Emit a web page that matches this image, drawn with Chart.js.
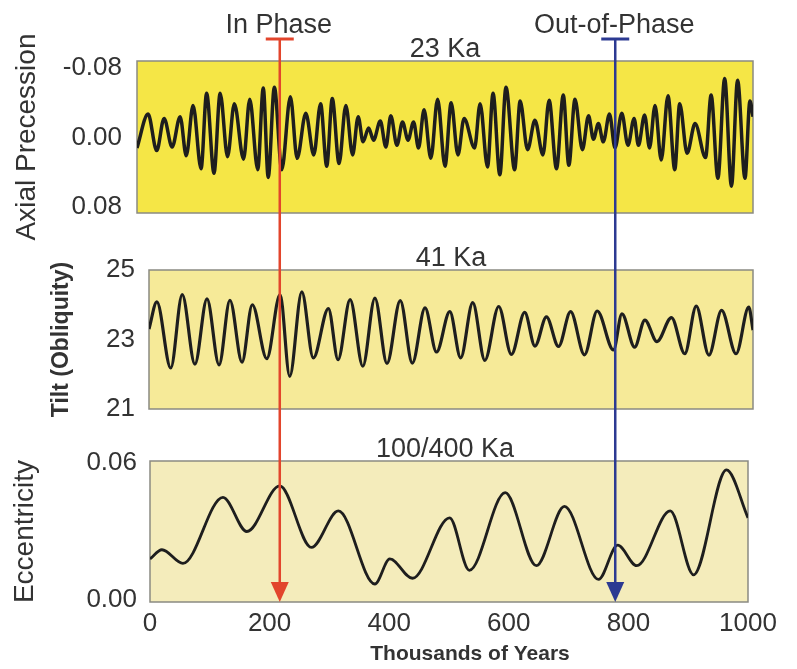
<!DOCTYPE html>
<html>
<head>
<meta charset="utf-8">
<script src="https://cdn.jsdelivr.net/npm/chart.js@4.4.1/dist/chart.umd.min.js"></script>
<style>
  body { margin: 0; background: #fff; }
  #wrap { position: relative; width: 797px; height: 669px; }
  #wrap canvas { position: absolute; left: 0; top: 0; }
</style>
</head>
<body>
<div id="wrap">
  <canvas id="precChart" width="797" height="669"></canvas>
  <canvas id="tiltChart" width="797" height="669"></canvas>
  <canvas id="eccChart" width="797" height="669"></canvas>
</div>
<script>
// axial precession (23 ka) - turning points
const precTime = [0, 18, 32, 44, 57, 70, 80, 91, 104, 113, 125, 135, 147, 158, 173, 183, 196, 205, 213, 223,
  235, 249, 260, 274, 287, 298, 308, 317, 328, 339, 350, 359, 367, 376, 384, 395, 404, 412, 422, 431,
  440, 449, 457, 466, 477, 488, 500, 510, 521, 531, 548, 557, 569, 578, 589, 599, 613, 622, 634, 646,
  659, 669, 681, 692, 701, 711, 723, 733, 741, 749, 757, 767, 776, 787, 797, 807, 814, 824, 832, 841,
  851, 862, 873, 881, 893, 906, 923, 932, 943, 954, 965, 975, 987, 995, 1000];
const precValue = [0.012, -0.027, 0.015, -0.022, 0.011, -0.024, 0.021, -0.037, 0.036, -0.051, 0.041, -0.051, 0.022, -0.039, 0.025, -0.044, 0.037, -0.057, 0.046, -0.058,
  0.037, -0.047, 0.024, -0.028, 0.020, -0.039, 0.033, -0.045, 0.030, -0.037, 0.020, -0.024, 0.005, -0.011, 0.003, -0.019, 0.011, -0.025, 0.009, -0.018,
  0.003, -0.018, 0.012, -0.032, 0.024, -0.044, 0.033, -0.040, 0.020, -0.022, 0.012, -0.039, 0.034, -0.051, 0.043, -0.058, 0.037, -0.042, 0.014, -0.020,
  0.020, -0.043, 0.036, -0.049, 0.032, -0.044, 0.014, -0.025, 0.002, -0.016, 0.005, -0.027, 0.012, -0.028, 0.009, -0.022, 0.009, -0.026, 0.012, -0.037,
  0.026, -0.048, 0.037, -0.039, 0.018, -0.016, 0.023, -0.049, 0.047, -0.068, 0.056, -0.066, 0.047, -0.042, -0.024];
const precTicks = [-0.08, 0, 0.08];

// tilt / obliquity (41 ka)
const tiltTime = [0, 13, 36, 55, 76, 96, 116, 134, 154, 171, 195, 217, 233, 253, 272, 297, 313, 333, 354, 374,
  394, 416, 436, 457, 476, 498, 516, 536, 556, 579, 600, 622, 639, 658, 678, 698, 721, 742, 769, 783,
  804, 821, 841, 865, 887, 906, 927, 948, 972, 993, 1000];
const tiltValue = [23.3, 24.08, 22.18, 24.29, 22.29, 24.17, 22.27, 24.13, 22.35, 24.0, 22.45, 24.29, 21.94, 24.37, 22.47, 23.89, 22.42, 24.15, 22.23, 24.19,
  22.31, 24.12, 22.32, 23.91, 22.64, 23.8, 22.47, 24.06, 22.4, 23.95, 22.57, 23.78, 22.81, 23.65, 22.8, 23.8, 22.56, 23.82, 22.7, 23.74,
  22.78, 23.56, 22.94, 23.63, 22.59, 23.96, 22.55, 23.84, 22.59, 23.93, 23.27];
const tiltTicks = [21, 23, 25];

// eccentricity (100/400 ka)
const eccTime = [0, 20, 55, 122, 162, 217, 270, 315, 376, 401, 439, 501, 534, 594, 646, 693, 750, 782, 814, 870, 909, 964, 1000];
const eccValue = [0.018, 0.022, 0.016, 0.045, 0.030, 0.050, 0.023, 0.039, 0.007, 0.018, 0.0095, 0.036, 0.013, 0.047, 0.015, 0.041, 0.009, 0.024, 0.015, 0.039, 0.011, 0.057, 0.036];
const eccTicks = [0, 0.06];

const yearTicks = [0, 200, 400, 600, 800, 1000];

// phase markers
const phaseLabels = ["In Phase", "Out-of-Phase"];
const phaseTimes = [217, 778];
const phaseColors = ["#e2452c", "#2c3a92"];

const FONT = '"Liberation Sans", Arial, sans-serif';
Chart.defaults.font.family = FONT;
Chart.defaults.color = "#333";

function toPoints(xs, ys) {
  return xs.map((x, i) => ({ x: x, y: ys[i] }));
}

// yellow box + title above it
const panelPlugin = {
  id: "panel",
  beforeDraw(chart, args, opts) {
    const { ctx, chartArea: a } = chart;
    ctx.save();
    ctx.fillStyle = opts.fill;
    ctx.fillRect(a.left, a.top, a.width, a.height);
    ctx.strokeStyle = "#8a8a82";
    ctx.lineWidth = 1.5;
    ctx.strokeRect(a.left, a.top, a.width, a.height);
    ctx.fillStyle = "#333";
    ctx.font = "27px " + FONT;
    ctx.textAlign = "center";
    ctx.textBaseline = "alphabetic";
    ctx.fillText(opts.title, (a.left + a.right) / 2 + (opts.shift || 0), a.top - 4.5);
    ctx.restore();
  }
};

// in phase / out-of-phase arrows across all three panels
const phasePlugin = {
  id: "phase",
  afterDraw(chart) {
    const { ctx, chartArea: a, scales: { x } } = chart;
    ctx.save();
    phaseTimes.forEach((t, i) => {
      const px = x.getPixelForValue(t);
      ctx.strokeStyle = phaseColors[i];
      ctx.fillStyle = phaseColors[i];
      ctx.lineWidth = 2.5;
      ctx.beginPath();
      ctx.moveTo(px, 39);
      ctx.lineTo(px, a.bottom - 18);
      ctx.stroke();
      ctx.lineWidth = 3;
      ctx.beginPath();
      ctx.moveTo(px - 14, 39);
      ctx.lineTo(px + 14, 39);
      ctx.stroke();
      ctx.beginPath();
      ctx.moveTo(px - 9, a.bottom - 20);
      ctx.lineTo(px + 9, a.bottom - 20);
      ctx.lineTo(px, a.bottom);
      ctx.closePath();
      ctx.fill();
      ctx.fillStyle = "#333";
      ctx.font = "27px " + FONT;
      ctx.textAlign = "center";
      ctx.textBaseline = "alphabetic";
      ctx.fillText(phaseLabels[i], px - 1, 33);
    });
    ctx.font = "bold 21px " + FONT;
    ctx.textAlign = "center";
    ctx.textBaseline = "middle";
    ctx.fillStyle = "#333";
    ctx.fillText("Thousands of Years", (a.left + a.right) / 2 + 21, 654);
    ctx.restore();
  }
};

function makeChart(id, cfg) {
  return new Chart(document.getElementById(id), {
    type: "line",
    data: {
      datasets: [{
        data: cfg.points,
        borderColor: "#1e1e1e",
        borderWidth: cfg.lineWidth,
        pointRadius: 0,
        cubicInterpolationMode: "monotone",
        fill: false
      }]
    },
    options: {
      responsive: false,
      animation: false,
      events: [],
      layout: { padding: cfg.padding },
      plugins: {
        legend: { display: false },
        tooltip: { enabled: false },
        panel: { fill: cfg.fill, title: cfg.title, shift: cfg.shift }
      },
      scales: {
        x: {
          type: "linear",
          min: 0,
          max: 1000,
          display: cfg.showX,
          grid: { display: false, drawTicks: false },
          border: { display: false },
          afterBuildTicks: (s) => { s.ticks = yearTicks.map((v) => ({ value: v })); },
          afterFit: (s) => { s.height = cfg.showX ? 67 : 0; },
          ticks: { padding: 6, font: { size: 26 }, color: "#333", callback: (v) => String(v) }
        },
        y: {
          min: cfg.yMin,
          max: cfg.yMax,
          reverse: !!cfg.reverse,
          grid: { display: false, drawTicks: false },
          border: { display: false },
          afterBuildTicks: (s) => { s.ticks = cfg.ticks.map((v) => ({ value: v })); },
          afterFit: (s) => { s.width = cfg.axisWidth; },
          ticks: {
            padding: cfg.tickPad,
            font: { size: 26 },
            color: "#333",
            callback: cfg.fmt
          },
          title: {
            display: true,
            text: cfg.yTitle,
            color: "#333",
            font: cfg.titleFont,
            padding: { top: cfg.titlePad, bottom: 0 }
          }
        }
      }
    },
    plugins: cfg.plugins
  });
}

makeChart("precChart", {
  points: toPoints(precTime, precValue),
  lineWidth: 3.5,
  padding: { top: 61, bottom: 456, left: 0, right: 44 },
  fill: "#f5e646",
  title: "23 Ka",
  showX: false,
  yMin: -0.0881,
  yMax: 0.0869,
  reverse: true,
  ticks: precTicks,
  axisWidth: 137,
  tickPad: 15,
  fmt: (v) => v.toFixed(2),
  yTitle: "Axial Precession",
  titleFont: { size: 28 },
  titlePad: 10,
  plugins: [panelPlugin]
});

makeChart("tiltChart", {
  points: toPoints(tiltTime, tiltValue),
  lineWidth: 3.2,
  padding: { top: 270, bottom: 260, left: 0, right: 44 },
  fill: "#f6ea98",
  title: "41 Ka",
  showX: false,
  yMin: 21,
  yMax: 25,
  ticks: tiltTicks,
  axisWidth: 149,
  tickPad: 14,
  fmt: (v) => String(v),
  yTitle: "Tilt (Obliquity)",
  titleFont: { size: 23, weight: "bold" },
  titlePad: 48,
  plugins: [panelPlugin]
});

makeChart("eccChart", {
  points: toPoints(eccTime, eccValue),
  lineWidth: 2.8,
  padding: { top: 461, bottom: 0, left: 0, right: 49 },
  fill: "#f4ecbb",
  title: "100/400 Ka",
  shift: -4,
  showX: true,
  yMin: -0.0009,
  yMax: 0.0609,
  ticks: eccTicks,
  axisWidth: 150,
  tickPad: 13,
  fmt: (v) => v.toFixed(2),
  yTitle: "Eccentricity",
  titleFont: { size: 28 },
  titlePad: 8,
  plugins: [panelPlugin, phasePlugin]
});
</script>
</body>
</html>
